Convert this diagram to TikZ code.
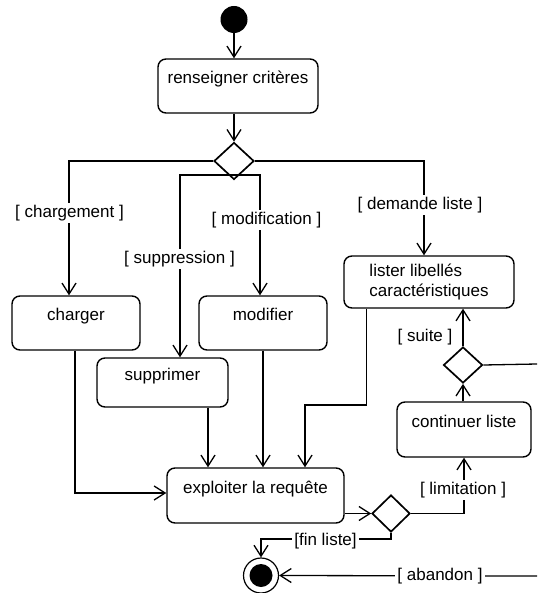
\documentclass[tikz,border=0pt]{standalone}
\usepackage{fontspec}
\setmainfont{Liberation Sans}
\usetikzlibrary{arrows.meta,shapes.geometric}
\begin{document}
\begin{tikzpicture}[x=1pt,y=-1pt,
  font=\fontsize{17}{19.5}\selectfont,
  wire/.style={line width=1.3pt},
  flow/.style={wire, -{Straight Barb[length=11pt,width=14pt,line width=1.3pt]}},
  action/.style={draw, line width=1.4pt, rounded corners=8pt, inner sep=0pt,
    text height=12pt, text depth=17pt},
  listbox/.style={draw, line width=1.4pt, rounded corners=8pt, inner sep=0pt, align=left},
  decision/.style={draw, diamond, line width=1.7pt, inner sep=0pt, fill=white},
  guard/.style={fill=white, inner sep=2pt},
]
\useasboundingbox (0,0) rectangle (537,593);

% activities
\node[circle, fill, minimum size=27pt, inner sep=0pt] (start) at (234,19.5) {};
\node[action, minimum width=160pt, minimum height=54pt] (rc) at (238,86) {renseigner critères};
\node[decision, minimum width=40pt, minimum height=37pt] (d1) at (234,161) {};
\node[action, minimum width=128pt, minimum height=54pt] (charger) at (76,323) {charger};
\node[action, minimum width=128pt, minimum height=54pt] (modif) at (263,323) {modifier};
\node[listbox, minimum width=170pt, minimum height=52pt] (lister) at (429,282) {lister libellés\\caractéristiques};
\node[action, minimum width=131pt, minimum height=49pt] (sup) at (162.5,382.5) {supprimer};
\node[action, minimum width=134pt, minimum height=55pt] (cont) at (464,429.5) {continuer liste};
\node[decision, minimum width=39pt, minimum height=36pt] (d2) at (463,365) {};
\node[action, minimum width=177pt, minimum height=55pt] (expl) at (255.5,495.5) {exploiter la requête};
\node[decision, minimum width=38pt, minimum height=37pt] (d3) at (391,513.5) {};
\node[circle, draw, line width=1.2pt, minimum size=35pt, inner sep=0pt] (fin) at (261,575.5) {};
\node[circle, fill, minimum size=23pt, inner sep=0pt] (findot) at (fin.center) {};

% helper points
\coordinate (split) at (234,175);
\coordinate (bend) at (305,405);
\coordinate (corner) at (261,539);
\coordinate (outR) at (537,364);
\coordinate (inR) at (537,576);

% transitions
\draw[flow] (start.south) -- (start.south |- rc.north);
\draw[flow] (d1 |- rc.south) -- (d1.north);
\draw[flow] (d1.west) -| ([xshift=-7pt]charger.north);
\draw[flow] (split) -| ([xshift=17.5pt]sup.north);
\draw[flow] (split) -| ([xshift=-3pt]modif.north);
\draw[flow] (d1.east) -| ([xshift=-5pt]lister.north);
\draw[flow] ([xshift=-1pt]charger.south) |- ([yshift=2.5pt]expl.west);
\draw[flow] ([xshift=45.5pt]sup.south) -- ([xshift=45.5pt]sup.south |- expl.north);
\draw[flow] (modif.south) -- (modif.south |- expl.north);
\draw[flow] ([xshift=-62.5pt]lister.south) |- (bend) -- (bend |- expl.north);
\draw[flow] (d3.west -| expl.east) -- (d3.west);
\draw[flow] (d3.east) -| (cont.south);
\draw[flow] (d2.south |- cont.north) -- (d2.south);
\draw[flow] (d2.north) -- (d2.north |- lister.south);
\draw[wire] (d2.east) -- (outR);
\draw[flow] (d3.south) |- (corner) -- (fin.north);
\draw[flow] (inR) -- (fin.east);

% guards
\node[guard] (gcharg) at (69.5,213) {[ chargement ]};
\node[guard] (gsupp) at (179.5,259) {[ suppression ]};
\node[guard] (gmodif) at (266.5,220) {[ modification ]};
\node[guard] (gdemande) at (420,205) {[ demande liste ]};
\node[guard] (gsuite) at (425,337) {[ suite ]};
\node[guard] (glimit) at (463,490) {[ limitation ]};
\node[guard] (gfin) at (325.5,541) {[fin liste]};
\node[guard] (gaband) at (440,576) {[ abandon ]};
\end{tikzpicture}
\end{document}
